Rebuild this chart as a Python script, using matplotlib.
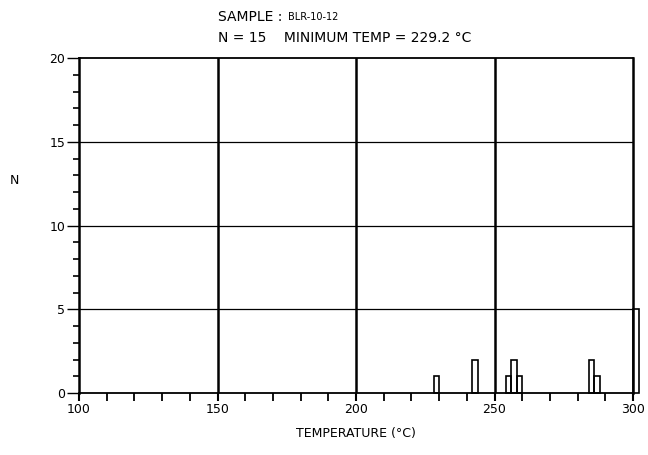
import matplotlib
matplotlib.use("Agg")
import matplotlib.pyplot as plt
from matplotlib.ticker import MultipleLocator

# Data (histogram, 2 °C bins; last bar = overflow at the 300 °C edge)
bin_left = [228, 242, 254, 256, 258, 284, 286, 300]
counts = [1, 2, 1, 2, 1, 2, 1, 5]
bin_width = 2

x_ticks = [100, 150, 200, 250, 300]
y_ticks = [0, 5, 10, 15, 20]
sample_name = "BLR-10-12"
n_total = 15
min_temp = 229.2

plt.rcParams['font.family'] = ['DejaVu Sans']

fig = plt.figure(figsize=(6.48, 4.55), dpi=100)
ax = fig.add_axes([79/648, 1 - 393/455, (633 - 79)/648, (393 - 58)/455])

ax.set_xlim(100, 300)
ax.set_ylim(0, 20)

# grid lines
for xv in [150, 200, 250]:
    ax.axvline(xv, color='black', lw=1.8, zorder=1)
for yv in [5, 10, 15]:
    ax.axhline(yv, color='black', lw=0.9, zorder=1)

ax.bar(bin_left, counts, width=bin_width, align='edge', fill=False,
       edgecolor='black', lw=1.2, clip_on=False, zorder=3)

ax.set_xticks(x_ticks)
ax.set_yticks(y_ticks)
ax.xaxis.set_minor_locator(MultipleLocator(10))
ax.yaxis.set_minor_locator(MultipleLocator(1))
ax.tick_params(axis='x', which='major', direction='out', length=6, width=1.5,
               labelsize=9, pad=1)
ax.tick_params(axis='x', which='minor', direction='out', length=6, width=1.3)
ax.tick_params(axis='y', which='major', direction='out', length=9, width=1.0,
               labelsize=9, pad=1)
ax.tick_params(axis='y', which='minor', direction='out', length=4, width=1.2)

for s in ['left', 'right']:
    ax.spines[s].set_linewidth(1.8)
for s in ['top', 'bottom']:
    ax.spines[s].set_linewidth(1.3)

ax.set_xlabel("TEMPERATURE (°C)", fontsize=9, labelpad=8)
fig.text(14/648, 1 - 181/455, "N", fontsize=9, ha='center', va='center')

fig.text(218/648, 1 - 17/455, "SAMPLE :", fontsize=10, ha='left', va='center')
fig.text(288/648, 1 - 17/455, sample_name, fontsize=7, ha='left', va='center')
fig.text(218/648, 1 - 38/455,
         f"N = {n_total}    MINIMUM TEMP = {min_temp} °C",
         fontsize=10, ha='left', va='center')

fig.savefig("out.png", dpi=100)
